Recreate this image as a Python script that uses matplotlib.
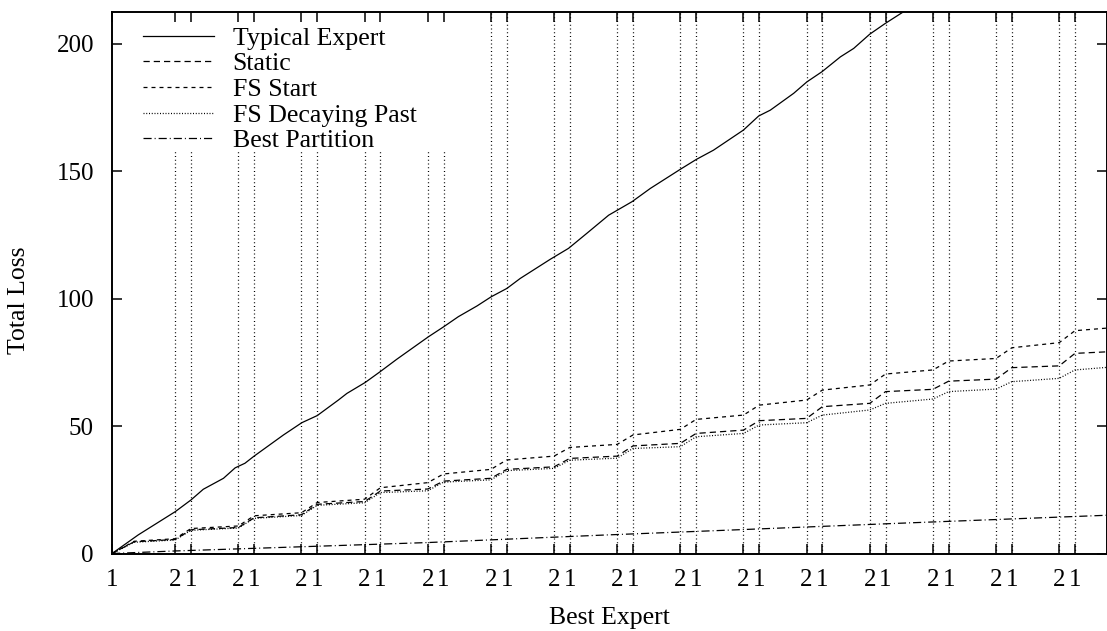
import matplotlib
matplotlib.use("Agg")
import matplotlib.pyplot as plt
from matplotlib.patches import Rectangle

plt.rcParams["font.family"] = ["Liberation Serif", "DejaVu Serif"]
plt.rcParams["font.size"] = 18

# trial at which the best expert switches, and which expert is best from there on
switch_trials = [0] + [t for k in range(1, 16) for t in (200 * k, 200 * k + 50)]
best_expert = ["1"] + ["2", "1"] * 15

# loss of a typical (non-best) expert
typical_trials = [0, 83, 200, 250, 289, 353, 390, 421, 450, 543, 601, 650, 717, 744,
                  802, 849, 902, 1002, 1050, 1097, 1156, 1201, 1251, 1293, 1388, 1446,
                  1504, 1573, 1601, 1647, 1705, 1800, 1851, 1905, 2000, 2048, 2085,
                  2159, 2201, 2249, 2307, 2349, 2400, 2449, 2502, 2550]
typical_loss = [0, 7.3, 16.4, 21.0, 25.2, 29.5, 33.6, 35.4, 38.2, 46.5, 51.3, 54.1,
                60.2, 62.8, 67.1, 71.3, 76.2, 85.0, 88.9, 92.9, 97.1, 100.7, 104.0,
                107.9, 115.4, 119.7, 125.6, 132.7, 134.7, 138.0, 143.2, 150.7, 154.6,
                158.2, 166.1, 171.6, 173.9, 180.5, 185.0, 189.0, 194.8, 198.1, 203.7,
                207.9, 212.1, 216.0]

# algorithm losses sampled at the switch points
alg_trials = [0, 70, 200, 250, 400, 450, 600, 650, 800, 850, 1000, 1050, 1200, 1250,
              1400, 1450, 1600, 1650, 1800, 1850, 2000, 2050, 2200, 2250, 2400, 2450,
              2600, 2650, 2800, 2850, 3000, 3050, 3150]
static_loss = [0, 4.6, 5.5, 9.3, 10.2, 14.0, 15.2, 19.3, 20.4, 24.5, 25.3, 28.4, 29.5,
               33.0, 34.0, 37.3, 38.2, 42.2, 43.2, 47.1, 48.4, 52.1, 53.0, 57.6, 58.9,
               63.5, 64.4, 67.6, 68.4, 72.9, 73.6, 78.5, 79.1]
fs_start_loss = [0, 4.8, 5.8, 9.8, 10.8, 14.8, 16.0, 20.0, 21.3, 25.8, 27.8, 31.2,
                 33.0, 36.7, 38.2, 41.6, 42.8, 46.5, 48.7, 52.6, 54.3, 58.2, 60.2,
                 64.1, 66.1, 70.4, 72.0, 75.5, 76.5, 80.7, 82.7, 87.4, 88.4]
fs_decay_loss = [0, 4.4, 5.3, 9.1, 10.0, 13.8, 14.9, 18.9, 19.9, 23.9, 24.6, 28.0,
                 28.9, 32.5, 33.4, 36.6, 37.4, 41.2, 41.9, 45.8, 47.1, 50.4, 51.3,
                 54.3, 56.3, 58.9, 60.6, 63.5, 64.5, 67.4, 68.7, 72.0, 73.0]

partition_trials = [0, 200, 1000, 1550, 2000, 2500, 3150]
partition_loss = [0, 1.0, 4.3, 7.2, 9.4, 11.9, 15.0]

fig = plt.figure(figsize=(11.07, 6.31), dpi=100)
ax = fig.add_axes([0.1012, 0.1228, 0.8984, 0.8582])

lw = 0.9
ax.plot(typical_trials, typical_loss, color="black", lw=lw, label="Typical Expert")
ax.plot(alg_trials, static_loss, color="black", lw=lw, dashes=(5, 3.2), label="Static")
ax.plot(alg_trials, fs_start_loss, color="black", lw=lw, dashes=(3.2, 3.2), label="FS Start")
ax.plot(alg_trials, fs_decay_loss, color="black", lw=lw, dashes=(0.8, 1.4),
        label="FS Decaying Past")
ax.plot(partition_trials, partition_loss, color="black", lw=lw,
        dashes=(6.5, 2.4, 0.8, 2.4), label="Best Partition")

# dotted vertical lines at every switch, blanked behind the key
ax.vlines(switch_trials[1:], 0, 1, transform=ax.get_xaxis_transform(),
          colors="black", linestyles=(0, (0.8, 2.2)), lw=0.9, zorder=1)
ax.add_patch(Rectangle((0, 0.745), 0.355, 0.255, transform=ax.transAxes,
                       facecolor="white", edgecolor="none", zorder=1.2))

ax.set_xlim(0, 3150)
ax.set_ylim(0, 212.4)
ax.set_xticks(switch_trials)
ax.set_xticklabels(best_expert)
ax.set_yticks([0, 50, 100, 150, 200])

ax.tick_params(direction="in", length=7.5, width=1.1, top=True, right=True)
ax.tick_params(axis="x", pad=11)
ax.tick_params(axis="y", pad=13)
for s in ax.spines.values():
    s.set_linewidth(1.4)

ax.set_xlabel("Best Expert", fontsize=18.5)
ax.set_ylabel("Total Loss", fontsize=18.5)
ax.xaxis.set_label_coords(0.5, -0.099)
ax.yaxis.set_label_coords(-0.0825, 0.468)

ax.legend(loc="upper left", bbox_to_anchor=(0.031, 0.973), frameon=False,
          borderpad=0, borderaxespad=0, handlelength=2.75, handletextpad=0.72,
          labelspacing=0.1, fontsize=18.6)

fig.savefig("out.png", dpi=100)
